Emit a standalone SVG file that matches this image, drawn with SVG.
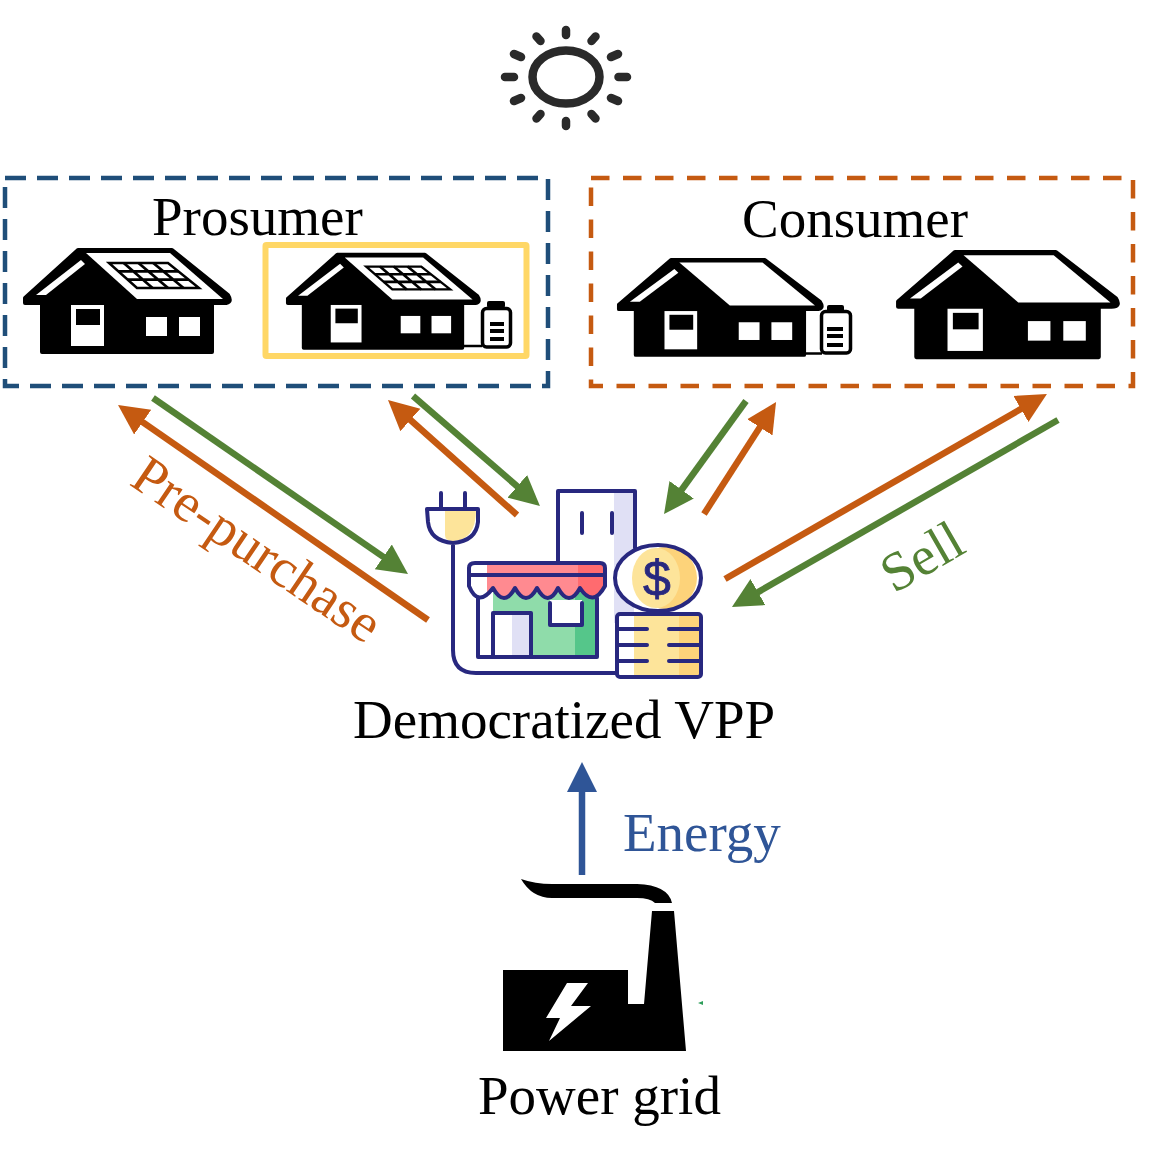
<svg xmlns="http://www.w3.org/2000/svg" xmlns:xlink="http://www.w3.org/1999/xlink" width="1150" height="1164" viewBox="0 0 1150 1164">
<style>
.t{font-family:"Liberation Serif","Times New Roman",serif;font-size:55px;fill:#000}
.box{fill:none;stroke-width:4.5}
.a{fill:none;stroke-width:6.5}
.or{stroke:#C55A11}.gr{stroke:#548235}.bl{stroke:#2F5597}
.n{stroke:#28287F;stroke-width:4;fill:none;stroke-linecap:round;stroke-linejoin:round}
.ray{stroke:#2A2A2A;stroke-width:8.500;stroke-linecap:round;fill:none}
.sl{stroke:#000;stroke-width:2.500;fill:#fff}
</style>
<defs>
<marker id="mo" markerUnits="userSpaceOnUse" markerWidth="36" markerHeight="36" refX="4" refY="18" orient="auto" viewBox="0 0 36 36"><path d="M0,3 L30,18 L0,33z" fill="#C55A11"/></marker>
<marker id="mg" markerUnits="userSpaceOnUse" markerWidth="36" markerHeight="36" refX="4" refY="18" orient="auto" viewBox="0 0 36 36"><path d="M0,3 L30,18 L0,33z" fill="#548235"/></marker>
<marker id="mb" markerUnits="userSpaceOnUse" markerWidth="36" markerHeight="36" refX="4" refY="18" orient="auto" viewBox="0 0 36 36"><path d="M0,3 L30,18 L0,33z" fill="#2F5597"/></marker>
<g id="house">
<path d="M25,298 L78,250 L172,250 L228,295 Q233,303 224,303 L212,303 L212,352 L42,352 L42,303 L25,303z" fill="#000" stroke="#000" stroke-width="4" stroke-linejoin="round"/>
<path d="M86,253 L170,253 L223,299 L137,299z" fill="#fff"/>
<path d="M81,260 L36,295 L46,295 L85,264z" fill="#fff"/>
<rect x="71" y="305" width="33" height="41" fill="#fff"/>
<rect x="76" y="309" width="24" height="16" fill="#000"/>
<rect x="146" y="317" width="21" height="19" fill="#fff"/>
<rect x="179" y="317" width="21" height="19" fill="#fff"/>
</g>
<g id="solar">
<path d="M109,263 L168,263 L199,288 L137,288z" class="sl"/>
<path d="M118.3,271.3 L178.3,271.3 M127.7,279.7 L188.7,279.7 M123.75,263 L152.5,288 M138.5,263 L168,288 M153.25,263 L183.5,288" stroke="#000" stroke-width="2.800" fill="none"/>
</g>
</defs>
<rect width="1150" height="1164" fill="#fff"/>

<g id="sun">
<ellipse cx="566" cy="77" rx="33.500" ry="26.500" fill="none" stroke="#2A2A2A" stroke-width="8.500"/>
<path class="ray" d="M566,30 V35 M566,121 V126 M505,77 H514 M618.500,77 H627 M536.500,36.500 L540.500,41 M595.500,36.500 L591.500,41 M514,54 L521,57 M618,54 L611,57 M514,101 L521,98 M618,101 L611,98 M536.500,118.500 L540.500,114 M595.500,118.500 L591.500,114"/>
</g>

<g id="prosumer">
<rect class="box" x="5" y="178" width="543" height="208" stroke="#1F4E79" stroke-dasharray="21 11"/>
<text class="t" x="152" y="235">Prosumer</text>
<g id="prosumer-house-1"><use href="#house"/><use href="#solar"/></g>
<rect id="prosumer-highlight" x="265.500" y="245" width="261" height="111" rx="1" fill="none" stroke="#FFD766" stroke-width="6"/>
<g id="prosumer-house-2">
<g transform="translate(264.500 26.200) scale(.933 .914)"><use href="#house"/><use href="#solar"/></g>
<path d="M463,346 H482" stroke="#000" stroke-width="2.500"/>
<rect x="482.500" y="308.500" width="28" height="38.500" rx="4" fill="#fff" stroke="#000" stroke-width="3.500"/>
<rect x="487" y="301" width="18" height="7" rx="2" fill="#000"/>
<path d="M490,324 H504 M490,331 H504 M490,339 H504" stroke="#000" stroke-width="4"/>
</g>
</g>

<g id="consumer">
<rect class="box" x="591" y="178" width="542" height="208" stroke="#C55A11" stroke-dasharray="18.500 13.500"/>
<text class="t" x="742" y="237">Consumer</text>
<g id="consumer-house-1">
<g transform="translate(594.200 26.500) scale(.99 .933)"><use href="#house"/></g>
<path d="M804,353.500 H822" stroke="#000" stroke-width="2.500"/>
<rect x="821.500" y="311.500" width="29" height="41.500" rx="4" fill="#fff" stroke="#000" stroke-width="3.500"/>
<rect x="827" y="305" width="17" height="7" rx="2" fill="#000"/>
<path d="M827,329 H843 M827,336 H843 M827,345 H843" stroke="#000" stroke-width="4"/>
</g>
<g id="consumer-house-2" transform="translate(871.400 -5.100) scale(1.072 1.029)"><use href="#house"/></g>
</g>

<g id="connectors">
<path class="a or" d="M428,620 L139.400,419.800" marker-end="url(#mo)"/>
<path class="a gr" d="M153,398 L386.600,559.200" marker-end="url(#mg)"/>
<path class="a or" d="M517,515 L407.400,417.300" marker-end="url(#mo)"/>
<path class="a gr" d="M413,396 L520.300,489" marker-end="url(#mg)"/>
<path class="a gr" d="M746,401 L679.300,493" marker-end="url(#mg)"/>
<path class="a or" d="M704,514 L762,423.900" marker-end="url(#mo)"/>
<path class="a or" d="M725,579 L1024.400,407" marker-end="url(#mo)"/>
<path class="a gr" d="M1058,420 L754.500,594.100" marker-end="url(#mg)"/>
<path class="a bl" d="M582,875 V788" marker-end="url(#mb)"/>
</g>
<text class="t" transform="translate(128 484) rotate(34)" style="fill:#C55A11">Pre-purchase</text>
<text class="t" transform="translate(894 594) rotate(-30)" style="fill:#548235">Sell</text>
<text class="t" x="623" y="851" style="fill:#2F5597">Energy</text>

<g id="vpp">
<rect x="560" y="491" width="75" height="90" fill="#fff"/>
<rect x="614" y="493" width="20" height="130" fill="#E0E0F5"/>
<path class="n" d="M558,563 V491 H635 V548 M582,513 V533 M612,513 V533"/>
<path d="M445,510 H476 Q476,540 453,541 Q445,541 445,535z" fill="#FDE49A"/>
<path class="n" d="M441,493 V509 M465,493 V509 M427,509 H478 V522 Q476,541 453,543 Q430,541 428,522z M453,543 V650 Q453,673 476,673 H617"/>
<rect x="493" y="590" width="104" height="67" fill="#8FDCAA"/>
<rect x="575" y="590" width="22" height="67" fill="#55C68A"/>
<rect x="493" y="613" width="38" height="44" fill="#fff"/>
<rect x="512" y="613" width="18" height="44" fill="#E0E0F5"/>
<rect x="550" y="600" width="32" height="25" fill="#fff"/>
<path class="n" d="M478,598 V657 H597 V598 M493,657 V613 H531 V657 M550,603 V625 H582 V603"/>
<path d="M487,565 H605 V588 Q593,606 580,588 Q569,606 558,588 Q548,606 537,588 Q526,606 515,588 Q504,606 493,588 L487,592z" fill="#FF8A90"/>
<path d="M578,565 H605 V588 Q593,606 580,588 L578,588z" fill="#FF6B6F"/>
<path class="n" d="M475,563 H600 Q605,563 605,568 V586 Q593,608 580,588 Q569,608 558,588 Q548,608 537,588 Q526,608 515,588 Q504,608 493,588 Q478,608 469,586 V568 Q469,563 475,563z M469,575 H605"/>
<ellipse cx="658" cy="578" rx="42" ry="32" fill="#fff"/>
<ellipse cx="666" cy="578" rx="31" ry="31" fill="#FDD37A"/>
<ellipse cx="656" cy="578" rx="24" ry="30" fill="#FDE49A"/>
<ellipse class="n" cx="658" cy="578" rx="43" ry="33"/>
<text x="657" y="596" text-anchor="middle" font-family="'Liberation Sans',Arial,sans-serif" font-size="50" fill="#28287F" stroke="#28287F" stroke-width=".8">$</text>
<rect x="617" y="615" width="84" height="62" rx="3" fill="#fff"/>
<rect x="634" y="616" width="45" height="60" fill="#FDE49A"/>
<rect x="679" y="616" width="21" height="60" fill="#FDD37A"/>
<rect class="n" x="617" y="614" width="84" height="63" rx="3"/>
<path class="n" d="M619,629 H647 M669,629 H700 M619,645 H647 M669,645 H700 M619,661 H647 M669,661 H700"/>
<text class="t" x="353" y="738">Democratized VPP</text>
</g>

<g id="power-grid">
<path d="M521,879 Q535,884 552,884 L637,884 Q668,885 672,903 L655,903 Q650,898 637,898 L552,898 Q532,898 521,879z" fill="#000"/>
<path d="M652,911 H674 L686,1051 H503 V970 H628 V1004 H644z" fill="#000"/>
<path d="M567,983 H588 L571,1006 H591 L549,1041 L560,1018 H546z" fill="#fff"/>
<path d="M698,1003 L703,1001 V1005z" fill="#2E9E5B"/>
<text class="t" x="478" y="1114">Power grid</text>
</g>
</svg>
